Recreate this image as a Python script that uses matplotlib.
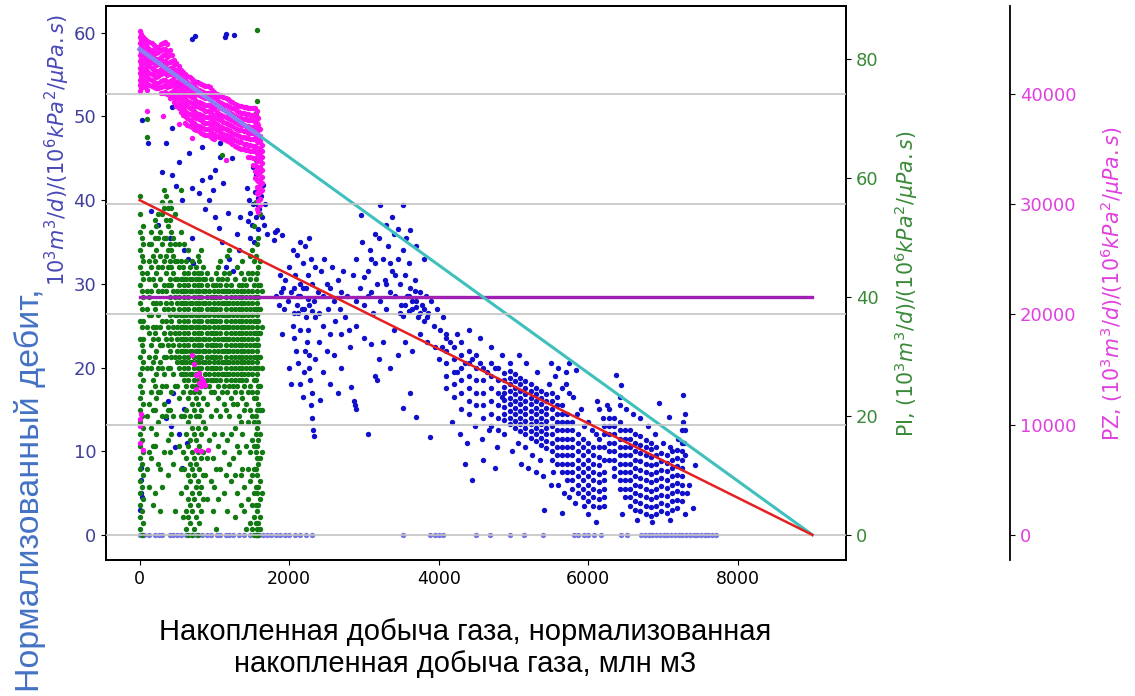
import matplotlib.pyplot as plt

# --- data ----------------------------------------------------------------
# x: cumulative gas production (mln m3)

# normalised rate (left axis), scattered days as (cum, rate)
q_early = [(700, 59.3), (740, 59.6), (1140, 59.5), (1160, 59.8), (1265, 59.7),
           (27, 49.6), (108, 46.8), (350, 46.8), (430, 48.6), (430, 51.1), (767, 54.1),
           (834, 46.4), (660, 45.6), (1076, 46.8), (1076, 45.2), (296, 43.4), (430, 43),
           (834, 42.4), (941, 42.8), (1009, 43.6), (793, 40.8), (565, 40), (930, 40),
           (700, 41.5), (980, 41.2), (1120, 42), (1230, 45), (1180, 38.5), (1300, 36),
           (1330, 34), (600, 34), (650, 33), (700, 35.5), (720, 32.5), (1200, 33),
           (1250, 31.5), (1340, 38), (150, 38.7), (250, 37), (400, 35.5), (480, 41.7),
           (520, 44.5), (880, 39), (1010, 38), (1060, 36.7), (1100, 35), (1150, 32),
           (1430, 41.5), (1460, 40), (1480, 38.5), (1500, 37), (1520, 39.5), (1540, 41),
           (1560, 38), (1580, 36.5), (1600, 39), (1620, 40.5), (1640, 38), (1660, 37),
           (1680, 39.5), (1700, 36), (1650, 41.8), (1480, 35.5), (1530, 35), (1450, 37.5),
           (1610, 42.2), (1590, 40.2), (1570, 39.5), (1520, 44), (1560, 43),
           (1800, 35.2), (1840, 36.4), (1900, 35.8), (1880, 31), (1920, 29.5), (1815, 36.2),
           (10, 3), (15, 5), (20, 6.5), (12, 8), (25, 4.5), (350, 14), (380, 16), (420, 13),
           (470, 10.5), (450, 17), (520, 12), (600, 15), (640, 11), (560, 8)]

q_middle = [(2230, 26), (2250, 24.5), (2240, 23), (2260, 21.5), (2270, 20), (2280, 18.5),
            (2300, 17), (2290, 15.5), (2310, 14), (2320, 12.5), (2330, 11.8), (2210, 22),
            (2200, 19.5), (2050, 25), (2070, 23.5), (2090, 22), (2120, 20.5), (2150, 18),
            (2180, 16.5), (1950, 30.5), (1980, 28), (2000, 32), (2030, 29), (2060, 26.5),
            (2080, 31), (2100, 33.5), (2120, 28.5), (2150, 30), (2170, 27), (2190, 32.5),
            (2210, 34.5), (2230, 29.5), (2250, 31), (2270, 27.5), (2290, 33), (2310, 30),
            (2330, 28), (2350, 32), (2380, 29), (2400, 26.5), (2420, 31.5), (2450, 28.5),
            (2470, 33), (2500, 30), (2520, 27), (2550, 29.5), (2580, 32), (2600, 28),
            (2620, 25.5), (2650, 30.5), (2680, 27), (2700, 29), (2720, 31.5), (2750, 26),
            (2780, 28.5), (2800, 24.5), (2140, 35), (2260, 35.5), (2050, 34), (2350, 26),
            (2450, 25), (2150, 24.5), (2550, 24), (2700, 24), (1820, 28.5), (1860, 27.5),
            (1890, 29), (2850, 31), (2900, 33), (2950, 29.5), (2980, 35), (3000, 27.5),
            (3050, 31.5), (3080, 34), (3100, 29), (3120, 26.5), (3150, 32.5), (3180, 30),
            (3200, 35.5), (3220, 28), (3250, 33), (3280, 30.5), (3300, 27), (3320, 34.5),
            (3350, 29), (3380, 31.5), (3400, 36), (3420, 28.5), (3450, 33), (3480, 30),
            (3500, 27.5), (3520, 34), (3550, 31), (3580, 28.5), (3600, 32.5), (3620, 29.5),
            (3650, 27), (3680, 30.5), (3700, 28), (3720, 26), (3750, 29), (3780, 27.5),
            (3800, 25.5), (3830, 28.5), (3860, 26.5), (3900, 28), (3940, 25), (3980, 27),
            (4020, 24.5), (4060, 26), (4100, 24), (3450, 36.5), (3300, 37), (3560, 35.5),
            (3150, 36), (2960, 38.2), (3215, 39.4), (3524, 39.4), (3380, 38), (3620, 36.4),
            (3700, 34.5), (3800, 33), (2900, 25), (3000, 23.5), (3100, 22.8), (3200, 21),
            (3150, 19), (3180, 18.5), (2810, 22.5), (2830, 17.7), (2870, 16), (2890, 15),
            (3053, 12), (3620, 17), (3524, 15.2), (3700, 14.1), (3890, 11.7), (3350, 20),
            (3450, 21.5), (3550, 23), (3650, 22), (3750, 24), (3850, 23), (3950, 22.5),
            (3400, 24.5), (3250, 23), (2700, 20), (2600, 21.5), (2500, 22), (2400, 23),
            (2350, 21), (2450, 19.5), (2550, 18), (2650, 17), (1930, 27), (1900, 24),
            (2000, 20), (2020, 18), (2410, 16.1), (2880, 15.5),
            (3550, 27.5), (3600, 26.8), (3650, 28), (3700, 27.2), (3750, 26.5), (3600, 28.6),
            (3680, 29.2), (3520, 26.2), (3800, 27), (3850, 26), (2100, 27.5), (2150, 28.5),
            (2200, 27), (2250, 28.2), (2180, 29.5), (2120, 26.5), (2300, 26.8), (2060, 29.5),
            (3000, 30.8), (3050, 28.5), (3100, 33), (2900, 28), (3350, 32.5), (3420, 31),
            (3480, 26.5), (3300, 30)]

q_late = [(4000, 21), (4050, 22.5), (4150, 23), (4250, 19.5), (4350, 20.5), (4450, 21),
          (4550, 20.5), (4650, 19.5), (4750, 20), (4850, 16.5), (4180, 13.5), (4280, 12),
          (4380, 11), (4480, 13), (4580, 11.5), (4680, 12.5), (4780, 10.5), (4880, 12),
          (4980, 10), (4250, 24), (4400, 24.5), (4550, 23.5), (4700, 22.5), (4850, 21.5),
          (4950, 20.5), (4600, 9), (4750, 8), (4350, 8.5), (4450, 6.5), (5070, 21.5),
          (5060, 11), (5150, 10.5), (5250, 9.5), (5350, 9), (5100, 8.5), (5200, 8),
          (5300, 7.5), (5400, 7), (5500, 6), (5170, 20.5), (5320, 19.5), (5470, 18),
          (5530, 7.5), (5600, 6), (5680, 5), (5750, 4.5), (5830, 3.8), (5700, 18),
          (5800, 16.5), (5900, 15), (6000, 13.5), (6100, 12), (5650, 17.5), (5750, 17),
          (5850, 14.5), (5950, 13), (6050, 12.5), (5837, 19.7), (5407, 3), (5650, 2.6),
          (5950, 3.5), (6100, 1.5), (6000, 2.5), (5550, 19), (5500, 20.5), (5600, 20),
          (5700, 19.5), (5750, 20.5), (6150, 15), (6200, 14), (6250, 15.5), (6375, 19.1),
          (6440, 17.9), (6420, 15.5), (6953, 15.8), (7088, 14.1), (7263, 16.7),
          (7424, 8.4), (7397, 3.2), (7300, 9.5), (7280, 11), (7290, 12.5), (7270, 13.5),
          (7300, 14.5), (7200, 11.5), (7100, 10.5), (7000, 11), (6900, 12), (6800, 13),
          (6700, 14), (6600, 14.5), (6500, 15), (7350, 6), (7320, 5), (6120, 16),
          (6420, 16.5), (6650, 1.8), (6850, 1.5), (7100, 1.8), (7300, 2.5), (6450, 2.5)]

# dense part of the late cloud, rate values per cum column
q_dense_cum = [4100, 4200, 4300, 4400, 4500, 4600, 4700, 4800, 4880, 4950, 5020, 5090,
               5160, 5230, 5300, 5370, 5440, 5510, 5580, 5650, 5720, 5790, 5860, 5930,
               6000, 6070, 6140, 6210, 6280, 6350, 6420, 6490, 6560, 6630, 6700, 6770,
               6840, 6910, 6980, 7050, 7120, 7190, 7250]
q_dense_vals = [
    [17.5, 19, 20.5, 22, 23.5],
    [16.5, 18, 19.5, 21, 22.5],
    [15, 17, 18.5, 20, 21.5, 23],
    [14.5, 16, 17.5, 19, 20.5, 22],
    [15.5, 17, 18.5, 20, 21.5],
    [14, 15.5, 17, 18.5, 20],
    [13, 14.5, 16, 17.5, 19, 20.5],
    [12.5, 14, 15.5, 17, 18.5, 20],
    [13.7, 14.5, 15.3, 16.1, 16.9, 17.7, 18.5, 19.3],
    [13.2, 14, 14.8, 15.6, 16.4, 17.2, 18, 18.8, 19.6],
    [12.8, 13.6, 14.4, 15.2, 16, 16.8, 17.6, 18.4, 19.2],
    [12.4, 13.2, 14, 14.8, 15.6, 16.4, 17.2, 18, 18.8],
    [12, 12.8, 13.6, 14.4, 15.2, 16, 16.8, 17.6, 18.4],
    [11.6, 12.4, 13.2, 14, 14.8, 15.6, 16.4, 17.2, 18],
    [11.2, 12, 12.8, 13.6, 14.4, 15.2, 16, 16.8, 17.6],
    [10.8, 11.6, 12.4, 13.2, 14, 14.8, 15.6, 16.4, 17.2],
    [10.4, 11.2, 12, 12.8, 13.6, 14.4, 15.2, 16, 16.8],
    [9, 10, 11, 12, 13, 14, 15, 16, 17],
    [8.5, 9.5, 10.5, 11.5, 12.5, 13.5, 14.5, 15.5, 16.5],
    [7.5, 8.5, 9.5, 10.5, 11.5, 12.5, 13.5, 14.5, 15.5],
    [6.5, 7.5, 8.5, 9.5, 10.5, 11.5, 12.5, 13.5, 14.5],
    [5.5, 6.5, 7.5, 8.5, 9.5, 10.5, 11.5, 12.5, 13.5],
    [5, 6, 7, 8, 9, 10, 11, 12],
    [4.5, 5.5, 6.5, 7.5, 8.5, 9.5, 10.5, 11.5],
    [4, 5, 6, 7, 8, 9, 10, 11],
    [3.5, 4.5, 5.5, 6.5, 7.5, 8.5, 9.5, 10.5],
    [3.3, 4.3, 5.3, 6.3, 7.3, 8.3, 9.3, 10.5, 11.5],
    [3.5, 4.5, 5.5, 6.5, 7.5, 9, 10.5, 12, 13],
    [9, 10, 11, 12, 13, 14, 15],
    [7, 8, 9, 10, 11, 12, 13, 14],
    [5.5, 6.5, 7.5, 8.5, 9.5, 10.5, 11.5, 12.5, 13.5],
    [4.5, 5.5, 6.5, 7.5, 8.5, 9.5, 10.5, 11.5, 12.5],
    [3.5, 4.5, 5.5, 6.5, 7.5, 8.5, 9.5, 10.5, 11.5, 12.5],
    [3, 4, 5, 6, 7, 8, 9, 10, 11, 12],
    [2.8, 3.8, 4.8, 5.8, 6.8, 7.8, 8.8, 9.8, 10.8, 11.8],
    [2.5, 3.5, 4.5, 5.5, 6.5, 7.5, 8.5, 9.5, 10.5, 11.3],
    [2.3, 3.3, 4.3, 5.3, 6.3, 7.3, 8.3, 9.3, 10.3, 11],
    [2.5, 3.5, 4.5, 5.5, 6.5, 7.5, 8.5, 9.5, 10.5],
    [2.8, 3.8, 4.8, 5.8, 6.8, 7.8, 8.8, 9.8],
    [2.6, 3.6, 4.6, 5.6, 6.6, 7.6, 8.6, 9.6],
    [3, 4, 5, 6, 7, 8, 9, 10],
    [3.2, 4.2, 5.2, 6.2, 7.2, 8.2, 9.2, 10.2],
    [4, 5, 6, 7, 8, 9, 10, 11, 12.5],
]

# days with zero rate
q_zero_cum = [0, 30, 60, 120, 200, 260, 300, 400, 450, 500, 550, 620, 700, 760, 830, 900,
              960, 1030, 1080, 1150, 1200, 1250, 1330, 1400, 1480, 1550, 1600, 1650, 1700,
              1760, 1820, 1880, 1950, 2000, 2080, 2150, 2230, 2300, 3520, 3890, 3950, 4000,
              4060, 4500, 4690, 4960, 5140, 5400, 5810, 5870, 5940, 6000, 6080, 6170, 6440,
              6520, 6710, 6760, 6810, 6860, 6910, 6960, 7010, 7060, 7110, 7160, 7210, 7260,
              7310, 7360, 7410, 7460, 7510, 7560, 7610, 7660, 7710]

# PI (middle axis), values per cumulative-production column
pi_cum = [0, 25, 50, 95, 120, 150, 175, 200, 225, 250, 275, 300, 325, 350, 375, 400, 425,
          450, 475, 500, 525, 550, 575, 600, 625, 650, 675, 700, 725, 750, 775, 800, 825,
          850, 875, 900, 925, 950, 975, 1000, 1025, 1050, 1075, 1100, 1125, 1150, 1175,
          1200, 1225, 1250, 1275, 1300, 1325, 1350, 1375, 1400, 1425, 1450, 1475, 1500,
          1525, 1550, 1570, 1590, 1615, 1640]
pi_vals = [
    [1, 3, 5, 7, 9, 11, 13, 15, 17, 19, 21, 23, 25, 27, 30, 33, 36, 39, 42, 45, 48, 51, 54, 57],
    [0, 4, 8, 12, 16, 20, 24, 28, 32, 35, 38, 41, 44, 47, 50],
    [2, 6, 10, 14, 18, 22, 26, 29, 31, 33, 36, 40, 43, 46, 49, 52],
    [67, 70, 11, 20, 28, 35, 38, 41, 44],
    [8, 14, 22, 30, 34, 37, 40, 43, 46, 49],
    [13, 18, 24, 28, 32, 37, 41, 45, 49, 51],
    [5, 15, 21, 26, 29, 33, 35, 39, 43, 47],
    [7, 15, 21, 25, 30, 34, 38, 42, 46, 50, 53],
    [17, 23, 27, 31, 35, 39, 44, 48, 52],
    [12, 19, 24, 28, 33, 37, 41, 45, 50, 54],
    [4, 11, 24, 29, 32, 35, 39, 43, 47, 51],
    [8, 20, 25, 28, 32, 36, 41, 45, 49, 54, 56],
    [14, 22, 27, 30, 34, 38, 42, 46, 50, 55, 58],
    [20, 25, 30, 33, 36, 39, 41, 44, 47, 50, 53, 57],
    [10, 16, 21, 28, 32, 35, 38, 42, 45, 48, 52, 55],
    [14, 21, 28, 31, 34, 37, 40, 43, 46, 49, 53, 56],
    [17, 24, 30, 33, 36, 39, 42, 45, 48, 51, 55],
    [12, 20, 27, 32, 35, 38, 41, 44, 47, 50],
    [4, 25, 30, 34, 37, 40, 43, 46, 49, 54],
    [25, 29, 31, 33, 35, 37, 39, 41, 43, 46],
    [15, 23, 28, 30, 32, 34, 36, 38, 40, 42, 45, 49],
    [7, 11, 20, 27, 29, 31, 33, 35, 37, 39, 41, 43, 46, 51, 58],
    [3, 14, 24, 27, 29, 31, 33, 35, 37, 39, 41, 43, 45],
    [11, 20, 26, 28, 30, 32, 34, 36, 38, 40, 42, 44, 49],
    [1, 4, 8, 13, 17, 21, 25, 27, 29, 31, 33, 35, 37, 39, 41, 43, 46],
    [0, 3, 6, 10, 15, 19, 23, 26, 28, 30, 32, 34, 36, 38, 40, 42, 44, 48],
    [2, 5, 9, 12, 16, 20, 24, 27, 29, 31, 33, 35, 37, 39, 41, 43, 45],
    [0, 4, 7, 11, 14, 18, 22, 25, 27, 29, 31, 33, 35, 37, 39, 41, 43, 46],
    [1, 6, 10, 13, 17, 21, 24, 26, 28, 30, 32, 34, 36, 38, 40, 42, 44],
    [3, 8, 12, 16, 20, 23, 25, 27, 29, 31, 33, 35, 37, 39, 41, 43, 45],
    [0, 5, 9, 14, 18, 22, 26, 28, 30, 32, 34, 36, 38, 40, 42, 44, 47],
    [2, 7, 11, 15, 20, 24, 27, 29, 31, 33, 35, 37, 39, 41, 43, 46],
    [4, 8, 13, 17, 21, 25, 28, 30, 32, 34, 36, 38, 40, 42, 44, 48],
    [6, 10, 14, 19, 23, 26, 29, 31, 33, 35, 37, 39, 41, 43, 45],
    [10, 18, 25, 27, 29, 31, 33, 35, 37, 39, 41, 43],
    [6, 13, 22, 26, 28, 30, 32, 34, 36, 38, 40, 42, 44],
    [16, 25, 27, 29, 31, 33, 35, 37, 39, 41],
    [9, 20, 24, 26, 28, 30, 32, 34, 36, 38, 40, 43],
    [4, 13, 26, 28, 30, 32, 34, 36, 38, 40, 42],
    [8, 17, 24, 27, 29, 31, 33, 35, 37, 39, 41],
    [1, 11, 21, 26, 28, 30, 32, 34, 36, 38, 40, 42, 44],
    [6, 15, 23, 25, 27, 29, 31, 33, 35, 37, 39, 41, 43, 45],
    [11, 20, 26, 28, 30, 32, 34, 36, 38, 40, 42, 46],
    [17, 24, 27, 29, 31, 33, 35, 37, 39, 41, 43, 64],
    [7, 14, 22, 25, 27, 29, 31, 33, 35, 37, 39, 41, 44],
    [10, 21, 26, 28, 30, 32, 34, 36, 38, 40, 42],
    [4, 16, 24, 27, 29, 31, 33, 35, 37, 39, 41, 43, 47],
    [12, 20, 25, 27, 29, 31, 33, 35, 37, 39, 41, 44, 48],
    [9, 17, 23, 26, 28, 30, 32, 34, 36, 38, 40, 42],
    [13, 22, 25, 27, 29, 31, 33, 35, 37, 39, 41],
    [3, 10, 18, 24, 26, 28, 30, 32, 34, 36, 38, 40, 43],
    [7, 15, 22, 25, 27, 29, 31, 33, 35, 37, 39, 41, 45],
    [14, 20, 26, 28, 30, 32, 34, 36, 38, 40, 42],
    [5, 10, 19, 24, 27, 29, 31, 33, 35, 37, 39, 41, 44],
    [11, 17, 23, 26, 28, 30, 32, 34, 36, 38, 40, 42, 46],
    [4, 8, 21, 25, 27, 29, 31, 33, 35, 37, 39, 41, 43],
    [1, 15, 22, 26, 28, 30, 32, 34, 36, 38, 40, 42],
    [6, 11, 19, 24, 27, 29, 31, 33, 35, 37, 39, 41, 44],
    [2, 9, 14, 21, 25, 28, 30, 32, 34, 36, 38, 40, 43, 47],
    [1, 5, 10, 16, 20, 24, 27, 29, 31, 33, 35, 37, 39, 41, 44, 48],
    [0, 3, 7, 11, 15, 19, 23, 26, 28, 30, 32, 34, 36, 38, 40, 42, 46, 52],
    [0, 2, 5, 8, 11, 14, 17, 20, 23, 26, 28, 30, 32, 34, 36, 38, 40, 43, 47, 56, 63, 71],
    [0, 1, 4, 7, 10, 13, 15, 18, 21, 24, 27, 29, 31, 33, 35, 37, 39, 41, 44, 49, 73, 85],
    [0, 2, 5, 8, 12, 16, 19, 22, 25, 28, 30, 32, 34, 36, 38, 40, 42, 45, 50],
    [1, 3, 6, 9, 13, 17, 21, 25, 30, 34, 38, 42, 46, 54],
    [7, 14, 21, 28, 35, 41],
]

# PZ (outer right axis), values per column
pz_cum = [0, 20, 40, 70, 100, 130, 160, 190, 220, 250, 280, 310, 340, 370, 400, 430, 460,
          490, 520, 550, 580, 610, 640, 670, 700, 730, 760, 790, 820, 850, 880, 910, 940,
          970, 1000, 1030, 1060, 1090, 1120, 1150, 1180, 1210, 1240, 1270, 1300, 1330,
          1360, 1390, 1420, 1450, 1480, 1510, 1540, 1565, 1590, 1615, 1640]
pz_vals = [
    [45700, 45200, 44600, 44100, 43500, 43000, 42400, 41900, 41300, 40800, 40300, 10500, 9900, 8300],
    [45400, 44900, 44300, 43800, 43200, 42700, 42100, 41600, 41000, 40500, 11000],
    [45200, 44600, 44100, 43500, 43000, 42400, 41900, 41300, 40700, 7700],
    [45000, 44500, 43900, 43400, 42800, 42300, 41700, 41200, 40600],
    [44800, 44300, 43700, 43200, 42600, 42100, 41500, 40900, 40400, 38500],
    [44700, 44100, 43600, 43000, 42500, 41900, 41400, 40800],
    [44600, 44000, 43500, 42900, 42400, 41800, 41300, 40700],
    [44400, 43900, 43300, 42800, 42200, 41700, 41100, 40600],
    [44300, 43700, 43200, 42600, 42100, 41500, 41000, 40500],
    [44300, 43800, 43200, 42700, 42100, 41600, 41000, 40500],
    [44500, 44000, 43400, 42900, 42300, 41800, 41200, 40600, 40100],
    [44600, 44100, 43500, 43000, 42400, 41900, 41300, 40700, 40100, 38000],
    [44700, 44100, 43600, 43000, 42500, 41900, 41300, 40800, 40200],
    [44500, 43900, 43400, 42800, 42300, 41700, 41100, 40600, 40000],
    [44000, 43500, 42900, 42400, 41800, 41200, 40700, 40100, 39600],
    [43500, 43000, 42400, 41900, 41300, 40800, 40200, 39700],
    [43100, 42600, 42000, 41500, 40900, 40400, 39800, 39300],
    [42800, 42200, 41700, 41100, 40600, 40000, 39500, 38900],
    [42500, 42000, 41400, 40900, 40300, 39800, 39200, 38700, 37300],
    [42200, 41700, 41100, 40600, 40000, 39500, 38900, 38400],
    [42000, 41400, 40900, 40300, 39800, 39200, 38700, 38100],
    [41800, 41300, 40700, 40200, 39600, 39100, 38500, 38000, 37400],
    [41600, 41100, 40500, 40000, 39400, 38900, 38300, 37800, 37200],
    [41500, 40900, 40400, 39800, 39300, 38700, 38200, 37600, 37100],
    [41400, 40800, 40300, 39700, 39200, 38600, 38100, 37500, 37000, 36000, 16300],
    [41200, 40700, 40100, 39600, 39000, 38500, 37900, 37400, 36800, 15500],
    [41100, 40500, 40000, 39400, 38900, 38300, 37800, 37200, 36700, 14500, 13200, 7700],
    [41000, 40400, 39900, 39300, 38800, 38200, 37700, 37100, 36600, 14700, 13800],
    [40900, 40300, 39800, 39200, 38700, 38100, 37600, 37000, 36500, 14200, 13500, 7600],
    [40800, 40200, 39700, 39100, 38600, 38000, 37500, 36900, 36400, 14000],
    [40700, 40100, 39600, 39000, 38500, 37900, 37400, 36800, 36300, 13600],
    [40700, 40100, 39600, 39000, 38500, 37900, 37400, 36800, 36300, 7700],
    [40600, 40000, 39500, 38900, 38400, 37800, 37300, 36700, 36200],
    [40400, 39800, 39300, 38700, 38200, 37600, 37100, 36500, 36000],
    [40200, 39700, 39100, 38600, 38000, 37500, 36900, 36400, 35900],
    [40000, 39500, 38900, 38400, 37800, 37300, 36700, 36200],
    [39900, 39300, 38800, 38200, 37700, 37100, 36600, 36100],
    [39800, 39200, 38700, 38100, 37600, 37000, 36500, 36000],
    [39700, 39100, 38600, 38000, 37500, 36900, 36400, 35900],
    [39600, 39000, 38500, 37900, 37400, 36800, 36300, 35800, 34000],
    [39500, 38900, 38400, 37800, 37300, 36700, 36200, 35700],
    [39400, 38800, 38300, 37700, 37200, 36600, 36100, 35600],
    [39300, 38700, 38200, 37600, 37100, 36500, 36000, 35500],
    [39100, 38600, 38000, 37500, 36900, 36400, 35800, 35300],
    [39000, 38500, 37900, 37400, 36800, 36300, 35700, 35200],
    [38900, 38400, 37800, 37300, 36700, 36200, 35600, 35100],
    [38900, 38300, 37800, 37200, 36700, 36100, 35600, 35000],
    [38800, 38300, 37700, 37200, 36600, 36100, 35500, 35000],
    [38800, 38200, 37700, 37100, 36600, 36000, 35500, 34900],
    [38700, 38200, 37600, 37100, 36500, 36000, 35400, 34900, 34300],
    [38700, 38100, 37600, 37000, 36500, 35900, 35400, 34800, 34300],
    [38700, 38100, 37600, 37000, 36500, 35900, 35300, 34800, 34200, 33600],
    [38700, 38100, 37500, 37000, 36400, 35900, 35300, 34800, 34200, 33600, 33000, 32400],
    [38500, 37900, 37400, 36800, 36300, 35700, 35100, 34600, 34000, 33400, 32800, 32200,
     31600, 31000, 29600],
    [37800, 37200, 36700, 36100, 35600, 35000, 34400, 33900, 33300, 32700, 32100, 31500,
     30900, 30300, 29300],
    [36800, 36200, 35700, 35100, 34600, 34000, 33400, 32900, 32300, 31700, 31100, 30500, 29900],
    [35400, 34800, 34300, 33700, 33100, 32500, 31900, 31300],
]

# straight-line trends
rate_fit_cum = [0, 9000]
rate_fit = [40, 0]
pz_fit_cum = [0, 9000]
pz_fit = [44060, 0]
pz_fit_seg_cum = [0, 1600]
pz_fit_seg = [44060, 36230]
pi_mean_cum = [0, 9000]
pi_mean = [40, 40]

# --- flatten ---------------------------------------------------------------
q_pts = q_early + q_middle + q_late
q_x = [p[0] for p in q_pts] + [c for c, v in zip(q_dense_cum, q_dense_vals) for _ in v]
q_y = [p[1] for p in q_pts] + [y for v in q_dense_vals for y in v]
pi_x = [c for c, vals in zip(pi_cum, pi_vals) for _ in vals]
pi_y = [v for vals in pi_vals for v in vals]
pz_x = [c for c, vals in zip(pz_cum, pz_vals) for _ in vals]
pz_y = [v for vals in pz_vals for v in vals]

# --- figure -----------------------------------------------------------------
blue_txt = '#40409c'
green_txt = '#3a8a3a'
pink_txt = '#e040e0'
tick_fs = 13
dot = 15

fig = plt.figure(figsize=(11.35, 6.96), dpi=100)
ax1 = fig.add_axes([0.0934, 0.1954, 0.652, 0.796])
ax2 = ax1.twinx()
ax3 = ax1.twinx()
ax4 = ax1.twinx()   # only for the rate trend line, so it sits on top

ax1.scatter(q_x, q_y, s=dot, color='#1010cc', linewidths=0)
ax1.scatter(q_zero_cum, [0] * len(q_zero_cum), s=dot, color='#7474e4', linewidths=0)

ax2.scatter(pi_x, pi_y, s=dot, color='#127a12', linewidths=0)
ax2.plot(pi_mean_cum, pi_mean, color='#a020b4', lw=2.4)

ax3.scatter(pz_x, pz_y, s=dot, color='#ff10f0', linewidths=0)
ax3.plot(pz_fit_cum, pz_fit, color='#3fc0bc', lw=2.2)
ax3.plot(pz_fit_seg_cum, pz_fit_seg, color='#8a80f2', lw=3.2)
ax3.grid(axis='y', color='#c4c4c4', lw=1.2)
ax3.set_axisbelow(False)

ax4.plot(rate_fit_cum, rate_fit, color='#e42020', lw=1.8)

# limits / ticks
ax1.set_xlim(-450, 9450)
ax1.set_ylim(-3.0, 63.2)
ax4.set_ylim(-3.0, 63.2)
ax2.set_ylim(-4.24, 89.0)
ax3.set_ylim(-2285, 47985)

ax1.set_xticks([0, 2000, 4000, 6000, 8000])
ax1.set_yticks([0, 10, 20, 30, 40, 50, 60])
ax2.set_yticks([0, 20, 40, 60, 80])
ax3.set_yticks([0, 10000, 20000, 30000, 40000])

ax1.tick_params(axis='x', labelsize=12.5, colors='black')
ax1.tick_params(axis='y', labelsize=tick_fs, labelcolor=blue_txt)
ax2.tick_params(axis='y', labelsize=tick_fs, labelcolor=green_txt)
ax3.tick_params(axis='y', labelsize=tick_fs, labelcolor=pink_txt)
ax4.set_yticks([])
for sp in ax4.spines.values():
    sp.set_visible(False)

ax3.spines['right'].set_position(('axes', 1.222))
for ax in (ax1, ax2, ax3):
    for sp in ax.spines.values():
        sp.set_linewidth(1.3)

# labels
fig.text(0.051, 0.785, r'$10^3m^3/d)/(10^6kPa^2/\mu Pa.s)$', rotation=90,
         ha='center', va='center', fontsize=15, color='#4848b8')
fig.text(0.026, 0.296, 'Нормализованный дебит,', rotation=90, ha='center', va='center',
         fontsize=24.5, color='#4472c4', family=['Liberation Sans', 'DejaVu Sans'])
fig.text(0.798, 0.592, r'PI, $(10^3m^3/d)/(10^6kPa^2/\mu Pa.s)$', rotation=90,
         ha='center', va='center', fontsize=14.8, color=green_txt)
fig.text(0.980, 0.593, r'PZ, $(10^3m^3/d)/(10^6kPa^2/\mu Pa.s)$', rotation=90,
         ha='center', va='center', fontsize=14.8, color=pink_txt)
fig.text(0.41, 0.069, 'Накопленная добыча газа, нормализованная\nнакопленная добыча газа, млн м3',
         ha='center', va='center', fontsize=21, linespacing=1.15, color='black',
         family=['Liberation Sans', 'DejaVu Sans'])

fig.savefig('out.png', dpi=100)
